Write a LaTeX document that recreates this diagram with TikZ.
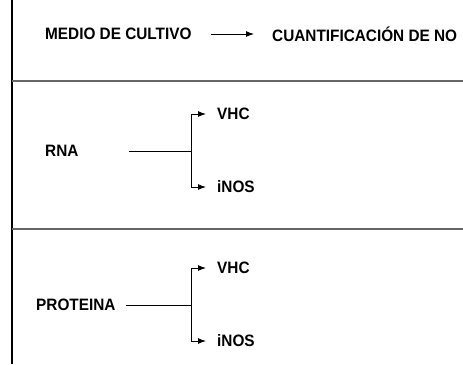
\documentclass[tikz,border=0pt]{standalone}
\usepackage{fontspec}
\setmainfont{Liberation Sans}
\usetikzlibrary{arrows.meta,positioning}

\begin{document}
\begin{tikzpicture}[x=1pt,y=-1pt,
  etiqueta/.style={font=\bfseries\fontsize{16.5}{18}\selectfont, xscale=0.93, inner sep=0pt, anchor=west},
  flecha/.style={-{Latex[length=8pt,width=6pt]}, line width=1pt},
  linea/.style={line width=1pt},
  separa/.style={gray!80!black, line width=1.5pt}]
  \useasboundingbox (0,0) rectangle (463,364);

  % marco
  \draw[line width=1.2pt] (12,0) -- (12,364);
  \draw[separa] (12,81) -- (463,81);
  \draw[separa] (12,229) -- (463,229);

  % medio de cultivo
  \node[etiqueta] (medio) at (45,34) {MEDIO DE CULTIVO};
  \node[etiqueta] (cuant) at (272,34) {CUANTIFICACIÓN DE NO};
  \draw[flecha, shorten <=19pt, shorten >=18pt] (medio.east) -- (cuant.west);

  % RNA
  \node[etiqueta] (rna) at (45,151) {RNA};
  \coordinate (rnaj) at (191,151);
  \node[etiqueta] (vhca) at (217,114) {VHC};
  \node[etiqueta] (inosa) at (217,187) {iNOS};
  \draw[linea, shorten <=50pt] (rna.east) -- (rnaj);
  \draw[flecha, shorten >=11pt] (rnaj) |- (vhca.west);
  \draw[flecha, shorten >=11pt] (rnaj) |- (inosa.west);

  % proteina
  \node[etiqueta] (prot) at (36,305) {PROTEINA};
  \coordinate (protj) at (191,305);
  \node[etiqueta] (vhcb) at (217,268) {VHC};
  \node[etiqueta] (inosb) at (217,341) {iNOS};
  \draw[linea, shorten <=10pt] (prot.east) -- (protj);
  \draw[flecha, shorten >=11pt] (protj) |- (vhcb.west);
  \draw[flecha, shorten >=11pt] (protj) |- (inosb.west);
\end{tikzpicture}
\end{document}
